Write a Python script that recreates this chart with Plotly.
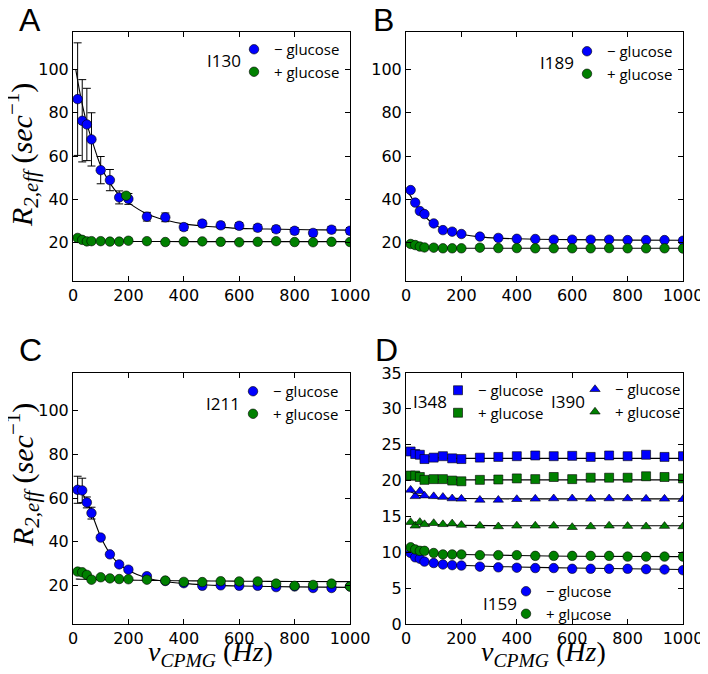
import plotly.graph_objects as go

# the page body keeps its default 8px margin, so the figure fills the rest of the 708x674 window
OFF = 8
W, H = 708 - OFF, 674 - OFF

# ---------------- data ----------------
nu = [16.7, 33.3, 50, 66.7, 100, 133.3, 166.7, 200, 266.7, 333.3, 400, 466.7,
      533.3, 600, 666.7, 733.3, 800, 866.7, 933.3, 1000]

# Panel A (I130)
a_minus = [86.3, 76.3, 74.6, 67.7, 53.5, 48.9, 40.9, 40.2, 32.0, 31.7, 27.2, 28.8,
           28.0, 27.8, 26.9, 26.2, 25.5, 24.5, 26.0, 25.5]
a_minus_err = [26, 19, 16.7, 12.3, 6.3, 4.9, 3.0, 2.5, 2.0, 2.0, 1.5, 1.5,
               1.5, 1.5, 1.5, 1.5, 1.5, 1.5, 1.5, 1.5]
a_plus_x = [16.7, 33.3, 50, 66.7, 100, 133.3, 166.7, 192, 200, 266.7, 333.3, 400, 466.7,
            533.3, 600, 666.7, 733.3, 800, 866.7, 933.3, 1000]
a_plus = [22.2, 21.3, 20.6, 20.7, 20.7, 20.5, 20.5, 41.7, 20.9, 20.7, 20.3, 20.5, 20.6,
          20.4, 20.2, 20.4, 20.7, 20.3, 20.2, 20.4, 20.3]
a_fit_minus_x = [10, 16.7, 33.3, 50, 66.7, 100, 133.3, 166.7, 200, 266.7, 333.3, 400,
                 466.7, 533.3, 600, 700, 800, 900, 1000]
a_fit_minus = [100, 95, 84, 75, 68, 55.5, 47.5, 42, 38.5, 33.3, 30.5, 28.7,
               27.7, 27.1, 26.6, 26.3, 26.1, 25.9, 25.8]
a_fit_plus_x = [13, 33.3, 50, 100, 200, 400, 1000]
a_fit_plus = [21.6, 21.0, 20.8, 20.6, 20.55, 20.5, 20.5]

# Panel B (I189)
b_minus = [44.3, 38.5, 34.6, 33.2, 28.9, 25.8, 25.1, 24.0, 22.8, 22.2, 21.8, 21.7,
           21.4, 21.4, 21.4, 21.4, 21.2, 21.2, 21.2, 20.9]
b_plus = [19.4, 18.9, 18.2, 17.8, 17.7, 17.4, 17.4, 17.4, 17.7, 17.5, 17.5, 17.4,
          17.4, 17.4, 17.4, 17.5, 17.4, 17.4, 17.4, 17.3]
b_fit_x = [8, 16.7, 33.3, 50, 66.7, 100, 133.3, 166.7, 200, 266.7, 333.3, 400,
           466.7, 600, 800, 1000]
b_fit_minus = [43.1, 41.5, 37.7, 34.6, 32.2, 28.7, 26.3, 24.8, 23.9, 22.7, 22.1, 21.8,
               21.6, 21.4, 21.2, 21.1]
b_fit_plus = [19.5, 19.2, 18.6, 18.1, 17.8, 17.6, 17.5, 17.45, 17.4, 17.4, 17.4, 17.4,
              17.4, 17.4, 17.4, 17.4]

# Panel C (I211)
c_minus = [63.8, 63.5, 58.0, 53.1, 41.9, 34.2, 29.6, 27.2, 24.2, 22.0, 21.0, 19.8,
           20.0, 19.8, 19.8, 19.2, 19.5, 18.8, 18.8, 19.5]
c_minus_err = [6.2, 5.6, 2.5, 2.7, 1.0, 0.8, 0.8, 0.8, 0.8, 0.8, 0.8, 0.8,
               0.8, 0.8, 0.8, 0.8, 0.8, 0.8, 0.8, 0.8]
c_plus = [26.3, 26.0, 24.8, 22.6, 23.7, 23.2, 22.9, 22.8, 22.6, 22.2, 21.6, 21.5,
          21.9, 21.8, 21.8, 20.8, 19.8, 20.2, 20.8, 19.5]
c_fit_x = [10, 16.7, 33.3, 50, 66.7, 100, 133.3, 166.7, 200, 266.7, 333.3, 400,
           466.7, 533.3, 600, 800, 1000]
c_fit_minus = [64.5, 64.0, 62.2, 58.3, 53.3, 42.3, 34.6, 29.7, 26.8, 23.4, 21.8, 20.9,
               20.3, 19.9, 19.7, 19.3, 19.1]
c_fit_plus = [22.9, 22.85, 22.8, 22.75, 22.7, 22.6, 22.5, 22.45, 22.4, 22.3, 22.2, 22.1,
              22.05, 22.0, 21.9, 21.8, 21.7]

# Panel D (I348, I390, I159)
d348_minus = [24.06, 23.7, 23.6, 23.0, 23.2, 23.4, 23.1, 23.0, 23.2, 23.3, 23.4, 23.5,
              23.4, 23.45, 23.3, 23.5, 23.4, 23.6, 23.3, 23.4]
d348_plus = [20.7, 20.7, 20.5, 20.1, 20.2, 20.2, 20.0, 19.9, 20.1, 20.15, 20.3, 20.2,
             20.5, 20.2, 20.4, 20.4, 20.4, 20.6, 20.5, 20.3]
d390_minus = [18.7, 17.8, 18.5, 17.9, 17.8, 17.7, 17.5, 17.45, 17.3, 17.3, 17.4, 17.45,
              17.5, 17.5, 17.45, 17.5, 17.5, 17.45, 17.45, 17.4]
d390_plus = [14.2, 13.7, 14.2, 13.9, 14.05, 13.9, 14.0, 13.8, 13.7, 13.6, 13.7, 13.7,
             13.7, 13.5, 13.6, 13.7, 13.65, 13.6, 13.65, 13.6]
d159_minus = [9.9, 9.3, 9.1, 8.7, 8.5, 8.3, 8.2, 8.15, 8.0, 7.9, 7.85, 7.8,
              7.8, 7.7, 7.7, 7.7, 7.7, 7.65, 7.6, 7.5]
d159_plus = [10.7, 10.4, 10.2, 10.2, 9.9, 9.7, 9.7, 9.7, 9.6, 9.6, 9.6, 9.5,
             9.5, 9.5, 9.5, 9.5, 9.4, 9.4, 9.4, 9.4]
d_fit_x = [8, 16.7, 33.3, 50, 66.7, 100, 133.3, 200, 400, 600, 1000]
d348_fit_minus = [24.0, 23.9, 23.7, 23.5, 23.4, 23.25, 23.15, 23.1, 23.1, 23.1, 23.1]
d348_fit_plus = [20.9, 20.8, 20.65, 20.5, 20.35, 20.2, 20.15, 20.1, 20.1, 20.1, 20.1]
d390_fit_minus = [18.6, 18.45, 18.1, 17.9, 17.8, 17.6, 17.55, 17.5, 17.45, 17.45, 17.45]
d390_fit_plus = [14.3, 14.25, 14.1, 14.0, 13.95, 13.9, 13.82, 13.75, 13.7, 13.7, 13.7]
d159_fit_plus = [10.8, 10.7, 10.4, 10.25, 10.1, 9.9, 9.8, 9.7, 9.55, 9.45, 9.4]
d159_fit_minus = [10.0, 9.8, 9.4, 9.1, 8.9, 8.6, 8.4, 8.2, 7.95, 7.8, 7.6]

BLUE = "#0000ff"
GREEN = "#008000"

fig = go.Figure()

# window pixel -> paper fraction
def px_x(p):
    return (p - OFF) / W

def px_y(p):
    return 1 - (p - OFF) / H

# panel domains (window pixels)
doms = {
    1: ((73, 350), (32, 281)),
    2: ((406, 683), (32, 281)),
    3: ((73, 350), (373, 624)),
    4: ((406, 683), (373, 624)),
}

def line(x, y, ax):
    fig.add_trace(go.Scatter(x=x, y=y, mode="lines",
                             line=dict(color="black", width=1.1, shape="spline", smoothing=0.8),
                             showlegend=False, hoverinfo="skip", xaxis="x" + ax, yaxis="y" + ax))

def pts(x, y, ax, color, symbol, name, legend, err=None, size=9.5):
    kw = {}
    if err is not None:
        kw["error_y"] = dict(type="data", array=err, visible=True, color="black", thickness=1, width=4)
    fig.add_trace(go.Scatter(x=x, y=y, mode="markers", name=name,
                             marker=dict(color=color, symbol=symbol, size=size,
                                         line=dict(color="black", width=0.6)),
                             xaxis="x" + ax, yaxis="y" + ax, legend=legend, **kw))

# Panel A
line(a_fit_minus_x, a_fit_minus, "")
line(a_fit_plus_x, a_fit_plus, "")
pts(nu, a_minus, "", BLUE, "circle", "\u2212 glucose", "legend", err=a_minus_err)
pts(a_plus_x, a_plus, "", GREEN, "circle", "+ glucose", "legend")

# Panel B
line(b_fit_x, b_fit_minus, "2")
line(b_fit_x, b_fit_plus, "2")
pts(nu, b_minus, "2", BLUE, "circle", "\u2212 glucose", "legend2")
pts(nu, b_plus, "2", GREEN, "circle", "+ glucose", "legend2")

# Panel C
line(c_fit_x, c_fit_minus, "3")
line(c_fit_x, c_fit_plus, "3")
pts(nu, c_minus, "3", BLUE, "circle", "\u2212 glucose", "legend3", err=c_minus_err)
pts(nu, c_plus, "3", GREEN, "circle", "+ glucose", "legend3")

# Panel D
for fy in [d348_fit_minus, d348_fit_plus, d390_fit_minus, d390_fit_plus, d159_fit_plus, d159_fit_minus]:
    line(d_fit_x, fy, "4")
pts(nu, d348_minus, "4", BLUE, "square", "\u2212 glucose", "legend4", size=9)
pts(nu, d348_plus, "4", GREEN, "square", "+ glucose", "legend4", size=9)
pts(nu, d390_minus, "4", BLUE, "triangle-up", "\u2212 glucose", "legend5", size=9)
pts(nu, d390_plus, "4", GREEN, "triangle-up", "+ glucose", "legend5", size=9)
pts(nu, d159_minus, "4", BLUE, "circle", "\u2212 glucose", "legend6")
pts(nu, d159_plus, "4", GREEN, "circle", "+ glucose", "legend6")

tickfont = dict(family="DejaVu Sans", size=16, color="black")
ytitle = "<i>R</i><sub><i>2,eff</i></sub> (<i>sec</i><sup>\u22121</sup>)"
xtitle = "<i>\u03bd</i><sub><i>CPMG</i></sub> (<i>Hz</i>)"

def axis_common():
    return dict(showline=True, linecolor="black", linewidth=1, mirror="ticks", ticks="inside",
                ticklen=5, tickwidth=1, tickcolor="black", showgrid=False, zeroline=False,
                tickfont=tickfont, automargin=False)

layout = dict(width=W, height=H, margin=dict(l=0, r=0, t=0, b=0, autoexpand=False),
              paper_bgcolor="white", plot_bgcolor="white")

for i in range(1, 5):
    (x0, x1), (y0, y1) = doms[i]
    sx = "" if i == 1 else str(i)
    xa = axis_common()
    xa.update(domain=[px_x(x0), px_x(x1)], range=[0, 1000], tickvals=[0, 200, 400, 600, 800, 1000],
              anchor="y" + sx)
    ya = axis_common()
    ya.update(domain=[px_y(y1), px_y(y0)], anchor="x" + sx)
    if i == 4:
        ya.update(range=[0, 35], tickvals=[0, 5, 10, 15, 20, 25, 30, 35])
    else:
        ya.update(range=[2.3, 117.3], tickvals=[20, 40, 60, 80, 100])
    layout["xaxis" + sx] = xa
    layout["yaxis" + sx] = ya

legfont = dict(family="Open Sans", size=15, color="black")

def leg(marker_x, row1_y):
    return dict(x=px_x(marker_x - 20), y=px_y(row1_y - 16), xanchor="left", yanchor="top",
                xref="paper", yref="paper", bgcolor="rgba(0,0,0,0)", font=legfont,
                tracegroupgap=0, itemwidth=30, borderwidth=0)

layout["legend"] = leg(254, 49)
layout["legend2"] = leg(587, 51)
layout["legend3"] = leg(253, 391)
layout["legend4"] = leg(458, 390)
layout["legend5"] = leg(595, 389)
layout["legend6"] = leg(526, 591)

anns = []
# panel letters
for txt, xp, yp in [("A", 30, 20), ("B", 383, 20), ("C", 30, 350), ("D", 386, 350)]:
    anns.append(dict(text=txt, x=px_x(xp), y=px_y(yp), xref="paper", yref="paper", showarrow=False,
                     xanchor="center", yanchor="middle",
                     font=dict(family="Liberation Sans", size=32, color="black")))
# residue labels
for txt, xp, yp in [("I130", 243, 60), ("I189", 576, 63), ("I211", 242, 403), ("I348", 449, 401),
                    ("I390", 587, 401), ("I159", 519, 603)]:
    anns.append(dict(text=txt, x=px_x(xp), y=px_y(yp), xref="paper", yref="paper", showarrow=False,
                     xanchor="right", yanchor="middle",
                     font=dict(family="Open Sans", size=17, color="black")))
# axis titles
for xp, yp in [(22, 155), (22, 475)]:
    anns.append(dict(text=ytitle, x=px_x(xp), y=px_y(yp), xref="paper", yref="paper", showarrow=False,
                     xanchor="center", yanchor="middle", textangle=-90,
                     font=dict(family="Liberation Serif", size=30, color="black")))
for xp, yp in [(210, 653), (543, 653)]:
    anns.append(dict(text=xtitle, x=px_x(xp), y=px_y(yp), xref="paper", yref="paper", showarrow=False,
                     xanchor="center", yanchor="middle",
                     font=dict(family="Liberation Serif", size=28, color="black")))
layout["annotations"] = anns

fig.update_layout(**layout)
fig.write_html("out.html")
